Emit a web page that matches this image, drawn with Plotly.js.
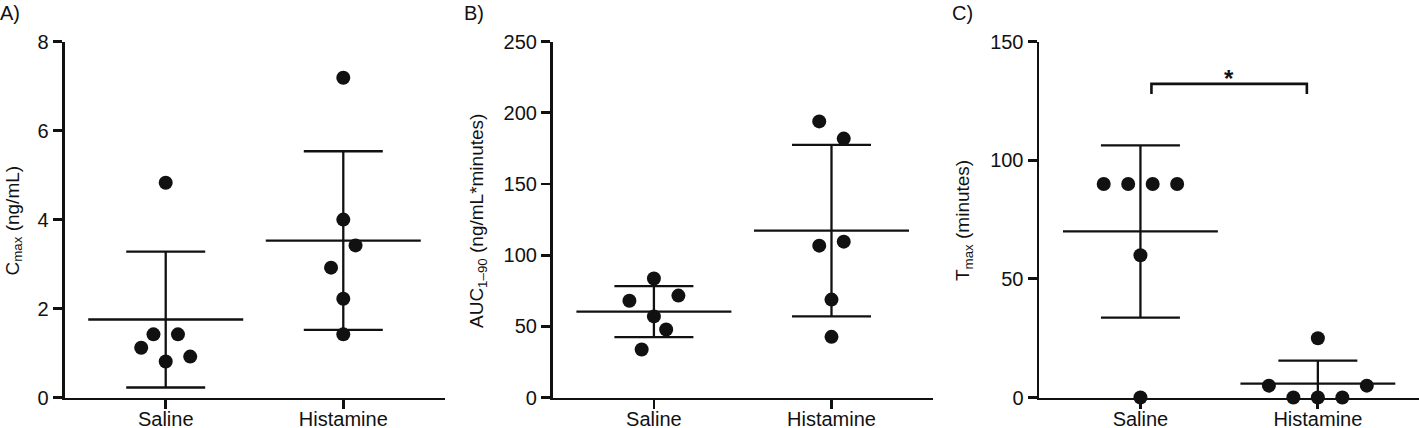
<!DOCTYPE html>
<html>
<head>
<meta charset="utf-8">
<script src="https://cdn.plot.ly/plotly-3.0.1.min.js"></script>
<style>
  html, body { margin: 0; padding: 0; background: #fff; }
  #chart { width: 1419px; height: 428px; }
</style>
</head>
<body>
<div id="chart"></div>
<script>
// ---- data ----
var groups = ['Saline', 'Histamine'];

// A) Cmax (ng/mL)
var cmaxSaline = [4.83, 1.42, 1.42, 1.12, 0.81, 0.92];
var cmaxHistamine = [7.19, 4.0, 2.92, 3.42, 2.22, 1.42];

// B) AUC 1-90 (ng/mL*minutes)
var aucSaline = [83.6, 68, 57, 71.6, 33.7, 47.8];
var aucHistamine = [194, 181.9, 106.7, 109.5, 68.8, 42.6];

// C) Tmax (minutes)
var tmaxSaline = [90, 90, 90, 90, 60, 0];
var tmaxHistamine = [25, 5, 0, 0, 0, 5];

var yTicksA = [0, 2, 4, 6, 8];
var yTicksB = [0, 50, 100, 150, 200, 250];
var yTicksC = [0, 50, 100, 150];

// ---- geometry / style ----
var W = 1419, H = 428;
var plotTop = 41.7, plotBottom = 397.5;
var plotH = plotBottom - plotTop;
var plotW = 380;
var xRange = [-0.57, 1.57];
var pxPerX = plotW / (xRange[1] - xRange[0]);
var DOT_GAP = 24.5;   // px between neighbouring dots in a row
var ROW_PX = 24;      // values closer than this (px) share a row
var MEAN_HALF = 77.5; // px
var FONT = 'Liberation Sans, Arial, Helvetica, sans-serif';
var INK = '#111111';

// rows of near-equal values are spread out and centred on the group (GraphPad style)
function swarm(values, yMax) {
  var pxPerY = plotH / yMax;
  var idx = values.map(function (v, i) { return i; })
    .sort(function (a, b) { return values[a] - values[b]; });
  var rows = [], cur = null;
  idx.forEach(function (i) {
    if (cur && (values[i] - values[cur[0]]) * pxPerY < ROW_PX) cur.push(i);
    else { cur = [i]; rows.push(cur); }
  });
  var off = [];
  rows.forEach(function (r) {
    r.sort(function (a, b) { return a - b; });
    r.forEach(function (i, k) { off[i] = (k - (r.length - 1) / 2) * DOT_GAP / pxPerX; });
  });
  return off;
}

function mean(a) { return a.reduce(function (s, v) { return s + v; }, 0) / a.length; }
function sd(a) {
  var m = mean(a);
  return Math.sqrt(a.reduce(function (s, v) { return s + (v - m) * (v - m); }, 0) / (a.length - 1));
}

var panels = [
  {sets: [cmaxSaline, cmaxHistamine], yMax: 8, ticks: yTicksA, left: 64.5, ax: ''},
  {sets: [aucSaline, aucHistamine], yMax: 250, ticks: yTicksB, left: 552.7, ax: '2'},
  {sets: [tmaxSaline, tmaxHistamine], yMax: 150, ticks: yTicksC, left: 1039.3, ax: '3'}
];

var traces = [];
var layout = {
  width: W, height: H,
  margin: {l: 0, r: 0, t: 0, b: 0},
  paper_bgcolor: '#fff', plot_bgcolor: '#fff',
  showlegend: false,
  font: {family: FONT, color: INK},
  annotations: [],
  shapes: []
};

panels.forEach(function (p) {
  var xa = 'x' + p.ax, ya = 'y' + p.ax;
  var means = p.sets.map(mean), sds = p.sets.map(sd);

  // error bars (mean +/- SD)
  traces.push({
    x: [0, 1], y: means, xaxis: xa, yaxis: ya,
    type: 'scatter', mode: 'markers',
    marker: {size: 1, opacity: 0},
    error_y: {type: 'data', array: sds, visible: true, width: 39.5, thickness: 2.3, color: INK},
    hoverinfo: 'skip'
  });

  // mean lines
  var mx = [], my = [];
  means.forEach(function (m, g) {
    var h = MEAN_HALF / pxPerX;
    mx.push(g - h, g + h, null); my.push(m, m, null);
  });
  traces.push({
    x: mx, y: my, xaxis: xa, yaxis: ya,
    type: 'scatter', mode: 'lines',
    line: {color: INK, width: 2.3}, hoverinfo: 'skip'
  });

  // individual animals
  p.sets.forEach(function (vals, g) {
    var off = swarm(vals, p.yMax);
    traces.push({
      x: vals.map(function (v, i) { return g + off[i]; }), y: vals,
      xaxis: xa, yaxis: ya, type: 'scatter', mode: 'markers',
      cliponaxis: false,
      marker: {size: 14, color: INK}
    });
  });

  var xd = [p.left / W, Math.min(1, (p.left + plotW) / W)];
  var yd = [(H - plotBottom) / H, (H - plotTop) / H];
  layout['xaxis' + p.ax] = {
    domain: xd, range: xRange, anchor: ya,
    tickvals: [0, 1], ticktext: groups,
    showline: true, linewidth: 2.8, linecolor: INK,
    ticks: 'outside', ticklen: 9, tickwidth: 2.8, tickcolor: INK,
    ticklabelstandoff: -7,
    showgrid: false, zeroline: false,
    tickfont: {size: 20, family: FONT, color: INK}
  };
  layout['yaxis' + p.ax] = {
    domain: yd, range: [0, p.yMax], anchor: xa,
    tickvals: p.ticks,
    showline: true, linewidth: 2.8, linecolor: INK,
    ticks: 'outside', ticklen: 9, tickwidth: 2.8, tickcolor: INK,
    showgrid: false, zeroline: false,
    tickfont: {size: 20, family: FONT, color: INK}
  };
});

// y titles and panel letters
var yTitles = [
  {text: 'C<sub>max</sub> (ng/mL)', x: 13.5},
  {text: 'AUC<sub>1\u201390</sub> (ng/mL*minutes)', x: 478},
  {text: 'T<sub>max</sub> (minutes)', x: 964}
];
yTitles.forEach(function (t) {
  layout.annotations.push({
    xref: 'paper', yref: 'paper', x: t.x / W, y: (H - 221) / H,
    xanchor: 'center', yanchor: 'middle', textangle: -90,
    text: t.text, showarrow: false, font: {size: 19, family: FONT, color: INK}
  });
});
[['A)', 0], ['B)', 464], ['C)', 952]].forEach(function (l) {
  layout.annotations.push({
    xref: 'paper', yref: 'paper', x: (l[1] - 2) / W, y: (H - 13) / H,
    xanchor: 'left', yanchor: 'middle',
    text: l[0], showarrow: false, font: {size: 20, family: FONT, color: INK}
  });
});

// significance bracket, Saline vs Histamine in panel C
layout.shapes.push({
  type: 'path', xref: 'x3', yref: 'y3',
  path: 'M 0.062 128 L 0.062 132.2 L 0.938 132.2 L 0.938 128',
  line: {color: INK, width: 2.6}
});
layout.annotations.push({
  xref: 'x3', yref: 'y3', x: 0.5, y: 134.5, xanchor: 'center', yanchor: 'middle',
  text: '<b>*</b>', showarrow: false, font: {size: 24, family: FONT, color: INK}
});

Plotly.newPlot('chart', traces, layout, {staticPlot: true, displayModeBar: false});
</script>
</body>
</html>
